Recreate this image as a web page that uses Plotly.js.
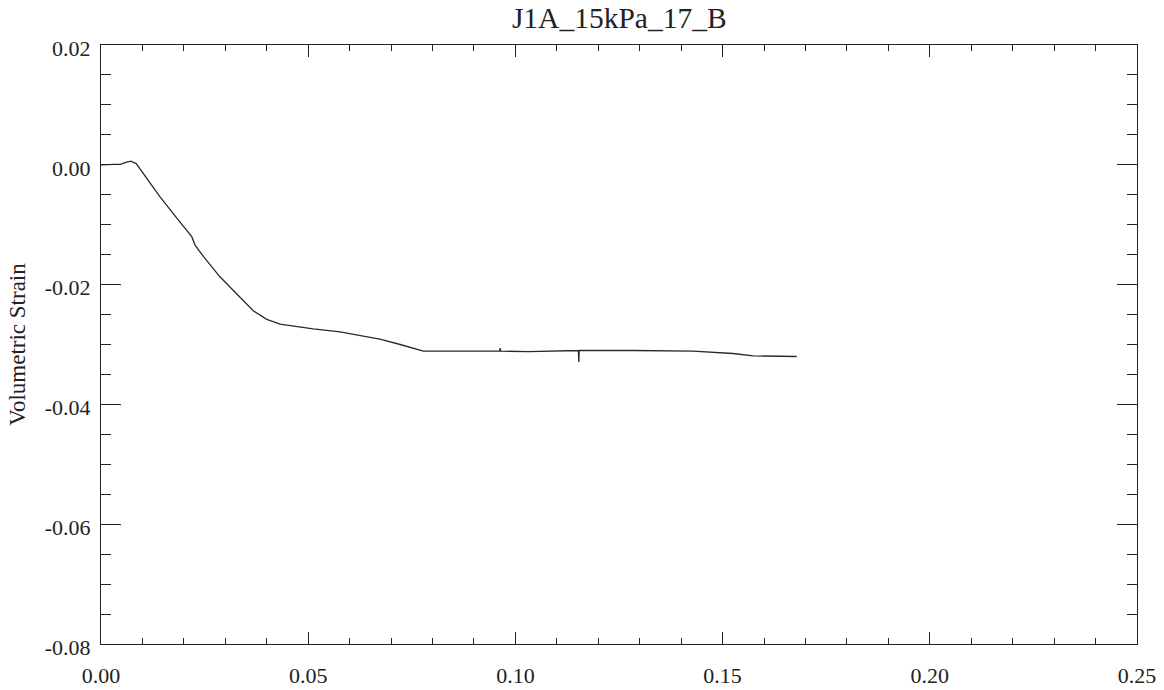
<!DOCTYPE html>
<html>
<head>
<meta charset="utf-8">
<script src="https://cdn.plot.ly/plotly-3.0.1.min.js"></script>
<style>html,body{margin:0;padding:0;background:#fff;}#chart{width:1164px;height:690px;}</style>
</head>
<body>
<div id="chart"></div>
<script>
const chartTitle = "J1A_15kPa_17_B";
const yAxisTitle = "Volumetric Strain";
const xTickVals = [0.00, 0.05, 0.10, 0.15, 0.20, 0.25];
const xTickText = ["0.00", "0.05", "0.10", "0.15", "0.20", "0.25"];
const yTickVals = [0.02, 0.00, -0.02, -0.04, -0.06, -0.08];
const yTickText = ["0.02", "0.00", "-0.02", "-0.04", "-0.06", "-0.08"];

const axialStrain = [0, 0.0025, 0.0048, 0.0060, 0.0072, 0.0085, 0.0118, 0.0142, 0.0183, 0.0219, 0.0227, 0.0247, 0.0287, 0.0327, 0.0368, 0.0400, 0.0432, 0.0512, 0.0577, 0.0633, 0.0673, 0.0722, 0.0778, 0.0850, 0.0962, 0.0963, 0.0965, 0.1030, 0.1100, 0.1152, 0.1153, 0.1154, 0.1284, 0.1429, 0.1525, 0.1574, 0.1679];
const volumetricStrain = [0, 0.0000, 0.0001, 0.0004, 0.0006, 0.0002, -0.0030, -0.0053, -0.0089, -0.0120, -0.0134, -0.0153, -0.0187, -0.0215, -0.0244, -0.0258, -0.0266, -0.0274, -0.0279, -0.0286, -0.0291, -0.0300, -0.0311, -0.0311, -0.0311, -0.0306, -0.0311, -0.0312, -0.0311, -0.0310, -0.0329, -0.0310, -0.0310, -0.0311, -0.0315, -0.0319, -0.0320];

const fontFam = "Liberation Serif";

const trace = {
  x: axialStrain,
  y: volumetricStrain,
  mode: "lines",
  type: "scatter",
  line: {color: "#2a2a2a", width: 1.3},
  hoverinfo: "skip"
};

const layout = {
  width: 1164,
  height: 690,
  margin: {l: 101, r: 27, t: 45, b: 46},
  paper_bgcolor: "#ffffff",
  plot_bgcolor: "#ffffff",
  showlegend: false,
  font: {family: fontFam, color: "#222"},
  title: {
    text: chartTitle,
    font: {family: fontFam, size: 29.5, color: "#222"},
    x: 0.532, xanchor: "center",
    y: 0.975, yanchor: "middle"
  },
  xaxis: {
    range: [0, 0.25],
    tickmode: "array",
    tickvals: xTickVals,
    ticktext: xTickText,
    ticks: "inside",
    ticklen: 12,
    tickwidth: 1,
    tickcolor: "#222",
    minor: {dtick: 0.01, ticks: "inside", ticklen: 6, tickwidth: 1, tickcolor: "#222", showgrid: false},
    showline: true,
    linecolor: "#222",
    linewidth: 1,
    mirror: "ticks",
    showgrid: false,
    zeroline: false,
    tickfont: {family: fontFam, size: 22, color: "#222"},
    ticklabelstandoff: 12
  },
  yaxis: {
    range: [-0.08, 0.02],
    tickmode: "array",
    tickvals: yTickVals,
    ticktext: yTickText,
    ticks: "inside",
    ticklen: 20,
    tickwidth: 1,
    tickcolor: "#222",
    minor: {dtick: 0.005, ticks: "inside", ticklen: 10, tickwidth: 1, tickcolor: "#222", showgrid: false},
    showline: true,
    linecolor: "#222",
    linewidth: 1,
    mirror: "ticks",
    showgrid: false,
    zeroline: false,
    tickfont: {family: fontFam, size: 22, color: "#222"},
    ticklabelstandoff: 5,
    ticklabelshift: 3,
    title: {text: yAxisTitle, font: {family: fontFam, size: 23, color: "#222"}, standoff: 12}
  }
};

Plotly.newPlot("chart", [trace], layout, {displayModeBar: false, staticPlot: true});
</script>
</body>
</html>
